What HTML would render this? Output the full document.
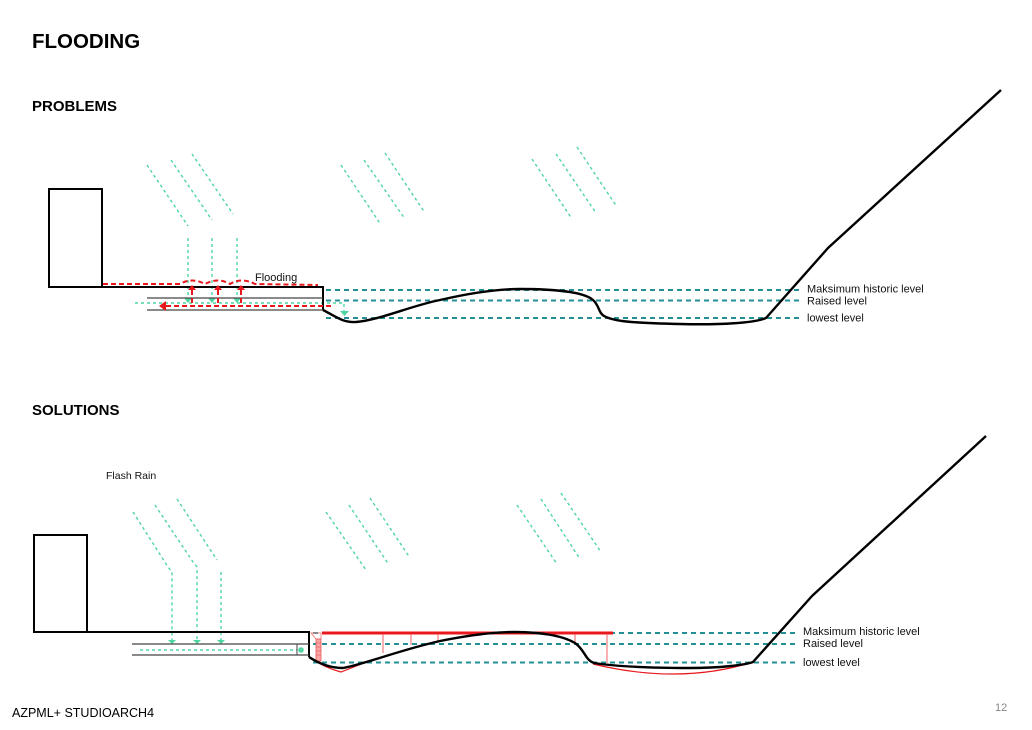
<!DOCTYPE html>
<html>
<head>
<meta charset="utf-8">
<style>
html,body{margin:0;padding:0;background:#fff;}
body{width:1032px;height:730px;overflow:hidden;position:relative;}
svg{position:absolute;left:0;top:0;}
text{font-family:"Liberation Sans",Arial,sans-serif;}
</style>
</head>
<body>
<svg width="1032" height="730" viewBox="0 0 1032 730" xmlns="http://www.w3.org/2000/svg">
<!-- Titles -->
<text x="32" y="48" font-size="20.5" font-weight="bold" fill="#000">FLOODING</text>
<text x="32" y="111" font-size="15" font-weight="bold" fill="#000">PROBLEMS</text>
<text x="32" y="415" font-size="15" font-weight="bold" fill="#000">SOLUTIONS</text>
<text x="12" y="717" font-size="12.5" fill="#000">AZPML+ STUDIOARCH4</text>
<text x="995" y="711" font-size="11" fill="#888">12</text>

<!-- ================= PROBLEMS ================= -->
<g stroke="#4fd6a0" stroke-width="1.4" stroke-dasharray="3,3" fill="none">
  <polyline points="147,165 188,226"/>
  <polyline points="171,160 212,220"/>
  <polyline points="192,154 233,214"/>
  <line x1="188" y1="238" x2="188" y2="298"/>
  <line x1="212" y1="238" x2="212" y2="298"/>
  <line x1="237" y1="238" x2="237" y2="298"/>
  <line x1="341" y1="165" x2="381" y2="225"/>
  <line x1="364" y1="160" x2="405" y2="219"/>
  <line x1="385" y1="153" x2="425" y2="213"/>
  <line x1="532" y1="159" x2="572" y2="219"/>
  <line x1="556" y1="154" x2="596" y2="213"/>
  <line x1="577" y1="147" x2="617" y2="207"/>
  <polyline points="135,303 344,303 344,311"/>
</g>
<g fill="#4fd6a0">
  <polygon points="184,298 192,298 188,303"/>
  <polygon points="208,298 216,298 212,303"/>
  <polygon points="233,298 241,298 237,303"/>
  <polygon points="340,311 349,311 344.5,316"/>
</g>

<g stroke="#238f96" stroke-width="2" stroke-dasharray="5,4">
  <line x1="326" y1="290" x2="800" y2="290"/>
  <line x1="326" y1="300.5" x2="800" y2="300.5"/>
  <line x1="326" y1="318" x2="800" y2="318"/>
</g>

<rect x="49" y="189" width="53" height="98" fill="none" stroke="#000" stroke-width="2"/>
<polyline points="102,287 323,287 323,310" fill="none" stroke="#000" stroke-width="2"/>
<line x1="147" y1="298" x2="323" y2="298" stroke="#444" stroke-width="1.2"/>
<line x1="147" y1="310" x2="323" y2="310" stroke="#444" stroke-width="1.2"/>

<g stroke="#e8191c" stroke-width="2" stroke-dasharray="5,3" fill="none">
  <path d="M103,284 L180,284 Q192,277 205,284 Q218,277 230,284 Q242,277 255,284 L318,285"/>
  <line x1="166" y1="306" x2="334" y2="306"/>
  <line x1="192" y1="290" x2="192" y2="306"/>
  <line x1="218" y1="290" x2="218" y2="306"/>
  <line x1="241" y1="290" x2="241" y2="306"/>
</g>
<g fill="#e8191c">
  <polygon points="159,306 166,301 166,311"/>
  <polygon points="188,290 196,290 192,285"/>
  <polygon points="214,290 222,290 218,285"/>
  <polygon points="237,290 245,290 241,285"/>
</g>
<text x="255" y="281" font-size="11" fill="#111">Flooding</text>

<path d="M323,310 C335,316 343,323 356,322 C380,320 410,306 440,300 C470,293 495,289 520,289 C560,289 585,293 593,300 C600,306 598,314 606,317 C615,321 630,323 680,324 C720,325 755,323 766,318 L828,248 L1001,90" fill="none" stroke="#000" stroke-width="2.4" stroke-linejoin="round"/>

<g font-size="11" fill="#111">
  <text x="807" y="292.5">Maksimum historic level</text>
  <text x="807" y="304.5">Raised level</text>
  <text x="807" y="321.5">lowest level</text>
</g>

<!-- ================= SOLUTIONS ================= -->
<text x="106" y="479" font-size="10.5" fill="#111">Flash Rain</text>

<g stroke="#4fd6a0" stroke-width="1.4" stroke-dasharray="3,3" fill="none">
  <polyline points="133,512 168,567 172,572 172,640"/>
  <polyline points="155,505 193,562 197,567 197,640"/>
  <line x1="177" y1="499" x2="217" y2="560"/>
  <line x1="221" y1="572" x2="221" y2="640"/>
  <line x1="326" y1="512" x2="366" y2="570"/>
  <line x1="349" y1="505" x2="389" y2="565"/>
  <line x1="370" y1="498" x2="410" y2="558"/>
  <line x1="517" y1="505" x2="557" y2="564"/>
  <line x1="541" y1="499" x2="580" y2="559"/>
  <line x1="561" y1="493" x2="601" y2="552"/>
  <line x1="140" y1="650" x2="297" y2="650"/>
</g>
<g fill="#4fd6a0">
  <polygon points="168,640 176,640 172,644"/>
  <polygon points="193,640 201,640 197,644"/>
  <polygon points="217,640 225,640 221,644"/>
  <circle cx="301" cy="650" r="2.8"/>
</g>

<g stroke="#238f96" stroke-width="2" stroke-dasharray="5,4">
  <line x1="313" y1="633" x2="797" y2="633"/>
  <line x1="313" y1="644" x2="797" y2="644"/>
  <line x1="313" y1="662.5" x2="797" y2="662.5"/>
</g>

<rect x="34" y="535" width="53" height="97" fill="none" stroke="#000" stroke-width="2"/>
<polyline points="87,632 309,632 309,657" fill="none" stroke="#000" stroke-width="2"/>
<line x1="132" y1="644" x2="309" y2="644" stroke="#444" stroke-width="1.2"/>
<line x1="132" y1="655" x2="309" y2="655" stroke="#444" stroke-width="1.2"/>
<line x1="297" y1="644" x2="297" y2="655" stroke="#444" stroke-width="1"/>

<g stroke="#e8191c" fill="none">
  <line x1="322" y1="633" x2="613" y2="633" stroke-width="3"/>
  <g stroke-width="1" stroke="#f06060">
    <line x1="383" y1="634" x2="383" y2="653"/>
    <line x1="411" y1="634" x2="411" y2="645"/>
    <line x1="438" y1="634" x2="438" y2="641"/>
    <line x1="467" y1="634" x2="467" y2="637"/>
    <line x1="575" y1="634" x2="575" y2="643"/>
    <line x1="607" y1="634" x2="607" y2="663"/>
  </g>
  <path d="M309,657 Q325,668 341,672 L364,663" stroke-width="1.2"/>
  <path d="M593,664 Q680,685 753,662" stroke-width="1.2"/>
  <polygon points="311,633 321,633 321,639 316,639" stroke-width="0.9" stroke="#f08080"/>
</g>
<rect x="316" y="639" width="5" height="22" fill="#f7a5a5" stroke="#e85a5a" stroke-width="0.8"/>
<g stroke="#e85a5a" stroke-width="0.6">
  <line x1="316" y1="643" x2="321" y2="643"/>
  <line x1="316" y1="647" x2="321" y2="647"/>
  <line x1="316" y1="651" x2="321" y2="651"/>
  <line x1="316" y1="655" x2="321" y2="655"/>
</g>

<path d="M309,657 C318,663 330,668 343,668 C365,664 400,650 440,641 C470,635 495,632 515,632 C545,632 565,637 575,643 C585,650 585,660 594,663 C620,667 660,668 690,668 C720,668 745,665 753,662 L812,596 L986,436" fill="none" stroke="#000" stroke-width="2.4" stroke-linejoin="round"/>

<g font-size="11" fill="#111">
  <text x="803" y="635">Maksimum historic level</text>
  <text x="803" y="647">Raised level</text>
  <text x="803" y="666">lowest level</text>
</g>
</svg>
</body>
</html>
